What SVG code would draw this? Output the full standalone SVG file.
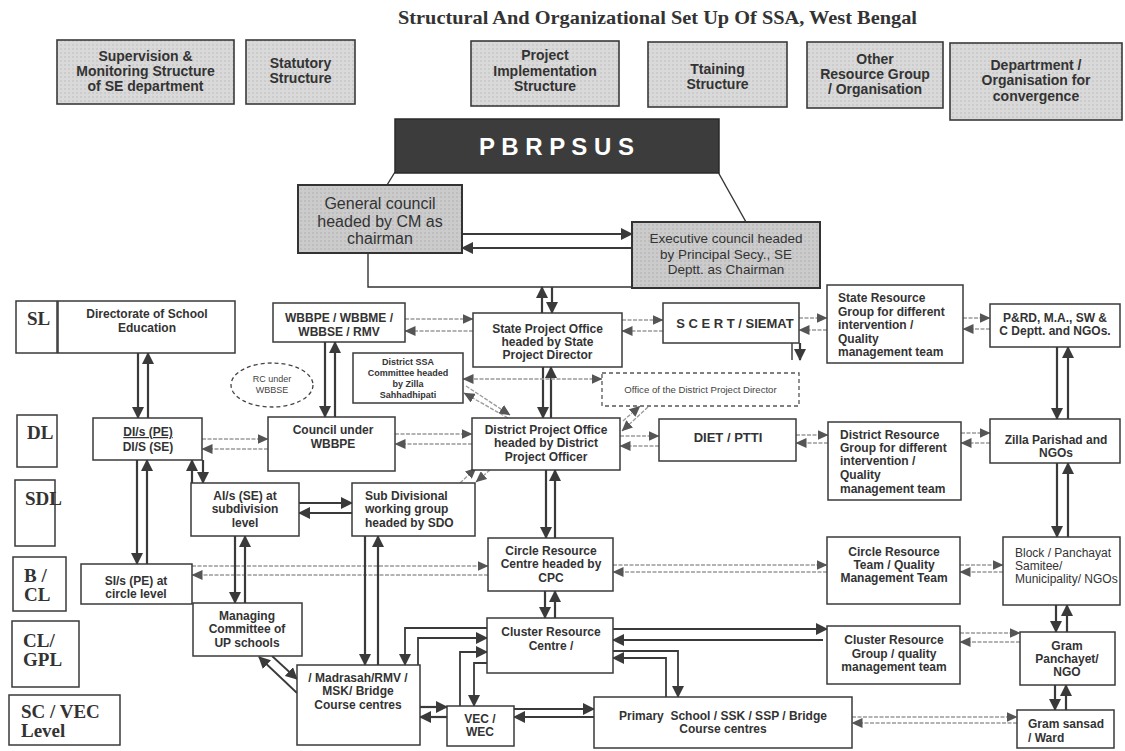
<svg xmlns="http://www.w3.org/2000/svg" width="1125" height="751" viewBox="0 0 1125 751">
<defs>
<pattern id="dots" width="4" height="4" patternUnits="userSpaceOnUse"><rect width="4" height="4" fill="#d9d9d9"/><circle cx="1" cy="1" r="0.7" fill="#b5b5b5"/></pattern>
<pattern id="dots2" width="4" height="4" patternUnits="userSpaceOnUse"><rect width="4" height="4" fill="#cbcbcb"/><circle cx="1" cy="1" r="0.7" fill="#a8a8a8"/></pattern>
<marker id="ah" viewBox="0 0 12 12" refX="11" refY="6" markerWidth="12" markerHeight="12" markerUnits="userSpaceOnUse" orient="auto-start-reverse"><path d="M0,0 L12,6 L0,12 z" fill="#3a3a3a"/></marker>
<marker id="at" viewBox="0 0 11 10" refX="10.5" refY="5" markerWidth="11" markerHeight="10" markerUnits="userSpaceOnUse" orient="auto-start-reverse"><path d="M0,0 L11,5 L0,10 z" fill="#555"/></marker>
</defs>
<style>
.box{fill:#fff;stroke:#3a3a3a;stroke-width:1.5}
.hdr{fill:url(#dots);stroke:#3a3a3a;stroke-width:1.6}
.gc{fill:url(#dots2);stroke:#333;stroke-width:2}
.dash{fill:#fff;stroke:#555;stroke-width:1.3;stroke-dasharray:4 3}
.t{font-family:"Liberation Sans",Arial,sans-serif;font-weight:bold;font-size:12px;fill:#333;text-anchor:middle}
.tl{font-family:"Liberation Sans",Arial,sans-serif;font-weight:bold;font-size:12px;fill:#333}
.h{font-family:"Liberation Sans",Arial,sans-serif;font-weight:bold;font-size:14px;fill:#333;text-anchor:middle}
.r{font-family:"Liberation Sans",Arial,sans-serif;font-size:16px;fill:#333;text-anchor:middle}
.re{font-family:"Liberation Sans",Arial,sans-serif;font-size:13.5px;fill:#333;text-anchor:middle}
.ts{font-family:"Liberation Sans",Arial,sans-serif;font-weight:bold;font-size:9px;fill:#333;text-anchor:middle}
.sm{font-family:"Liberation Sans",Arial,sans-serif;font-size:9px;fill:#444;text-anchor:middle}
.tb{font-family:"Liberation Sans",Arial,sans-serif;font-weight:bold;font-size:13px;fill:#333;text-anchor:middle}
.rg{font-family:"Liberation Sans",Arial,sans-serif;font-size:12px;fill:#333}
.lbl{font-family:"Liberation Serif","Times New Roman",serif;font-weight:bold;font-size:19px;fill:#333}
.thick{fill:none;stroke:#3a3a3a;stroke-width:2.2;marker-end:url(#ah)}
.med{fill:none;stroke:#3a3a3a;stroke-width:1.8;marker-end:url(#ah)}
.thin{fill:none;stroke:#9a9a9a;stroke-width:1.3;stroke-dasharray:4 1.5;marker-end:url(#at)}
.plain{fill:none;stroke:#333;stroke-width:1.4}
</style>
<rect width="1125" height="751" fill="#fff"/>
<text x="657.5" y="24" font-family="'Liberation Serif','Times New Roman',serif" font-weight="bold" font-size="19" fill="#333" text-anchor="middle" textLength="519" lengthAdjust="spacingAndGlyphs">Structural And Organizational Set Up Of SSA, West Bengal</text>

<g id="connectors">
<line class="plain" x1="395" y1="172" x2="387" y2="185"/>
<line class="plain" x1="718" y1="172" x2="746" y2="222"/>
<line class="med" x1="462" y1="234" x2="632" y2="234"/>
<line class="med" x1="632" y1="248" x2="462" y2="248"/>
<polyline class="plain" points="368,253 368,287 632,287"/>
<line class="thick" x1="542" y1="313" x2="542" y2="287"/>
<line class="thick" x1="552" y1="287" x2="552" y2="313"/>

<line class="thin" x1="405" y1="319" x2="473" y2="319"/>
<line class="thin" x1="473" y1="331" x2="405" y2="331"/>
<line class="thin" x1="622" y1="320" x2="663" y2="320"/>
<line class="thin" x1="663" y1="331" x2="622" y2="331"/>
<line class="thin" x1="799" y1="318" x2="827" y2="318"/>
<line class="thin" x1="827" y1="330" x2="799" y2="330"/>
<line class="thin" x1="963" y1="318" x2="990" y2="318"/>
<line class="thin" x1="990" y1="329" x2="963" y2="329"/>
<line class="plain" x1="792" y1="343" x2="792" y2="360"/>
<line class="thick" x1="800" y1="343" x2="800" y2="360"/>

<line class="thick" x1="138" y1="353" x2="138" y2="418"/>
<line class="thick" x1="148" y1="418" x2="148" y2="353"/>
<line class="thick" x1="325" y1="342" x2="325" y2="417"/>
<line class="thick" x1="335" y1="417" x2="335" y2="342"/>
<line class="thick" x1="1057" y1="347" x2="1057" y2="419"/>
<line class="thick" x1="1068" y1="419" x2="1068" y2="347"/>
<line class="thick" x1="543" y1="367" x2="543" y2="418"/>
<line class="thick" x1="551" y1="418" x2="551" y2="367"/>

<line class="thin" x1="463" y1="379" x2="602" y2="379" marker-start="url(#at)"/>
<line class="thin" x1="508" y1="418" x2="464" y2="393"/>
<line class="thin" x1="466" y1="386" x2="510" y2="415"/>
<line class="thin" x1="623" y1="421" x2="640" y2="406"/>
<line class="thin" x1="648" y1="407" x2="622" y2="431"/>

<line class="thin" x1="202" y1="439" x2="268" y2="439"/>
<line class="thin" x1="268" y1="449" x2="202" y2="449"/>
<line class="thin" x1="395" y1="434" x2="472" y2="434"/>
<line class="thin" x1="472" y1="444" x2="395" y2="444"/>
<line class="thin" x1="620" y1="436" x2="659" y2="436"/>
<line class="thin" x1="659" y1="446" x2="620" y2="446"/>
<line class="thin" x1="796" y1="435" x2="828" y2="435"/>
<line class="thin" x1="828" y1="443" x2="796" y2="443"/>
<line class="thin" x1="961" y1="433" x2="990" y2="433"/>
<line class="thin" x1="990" y1="443" x2="961" y2="443"/>

<line class="thick" x1="137" y1="460" x2="137" y2="564"/>
<line class="thick" x1="147" y1="564" x2="147" y2="460"/>
<line class="thick" x1="192" y1="483" x2="192" y2="460"/>
<line class="thick" x1="203" y1="460" x2="203" y2="483"/>
<line class="med" x1="299" y1="503" x2="352" y2="503"/>
<line class="med" x1="352" y1="513" x2="299" y2="513"/>
<line class="thin" x1="460" y1="483" x2="476" y2="468"/>
<line class="thin" x1="490" y1="470" x2="476" y2="482"/>

<line class="thin" x1="192" y1="566" x2="488" y2="566"/>
<line class="thin" x1="488" y1="575" x2="192" y2="575"/>
<line class="thin" x1="613" y1="565" x2="827" y2="565"/>
<line class="thin" x1="827" y1="572" x2="613" y2="572"/>
<line class="thin" x1="960" y1="565" x2="1003" y2="565"/>
<line class="thin" x1="1003" y1="572" x2="960" y2="572"/>
<line class="thick" x1="546" y1="470" x2="546" y2="538"/>
<line class="thick" x1="555" y1="538" x2="555" y2="470"/>
<line class="thick" x1="235" y1="536" x2="235" y2="603"/>
<line class="thick" x1="245" y1="603" x2="245" y2="536"/>
<line class="thick" x1="365" y1="536" x2="365" y2="665"/>
<line class="thick" x1="378" y1="665" x2="378" y2="536"/>
<line class="thick" x1="1057" y1="463" x2="1057" y2="537"/>
<line class="thick" x1="1068" y1="537" x2="1068" y2="463"/>

<line class="thick" x1="545" y1="591" x2="545" y2="618"/>
<line class="thick" x1="555" y1="618" x2="555" y2="591"/>
<line class="thick" x1="613" y1="629" x2="827" y2="629"/>
<line class="thick" x1="823" y1="640" x2="613" y2="640"/>
<line class="thin" x1="960" y1="633" x2="1020" y2="633"/>
<line class="thin" x1="1020" y1="642" x2="960" y2="642"/>
<line class="thick" x1="1056" y1="605" x2="1056" y2="632"/>
<line class="thick" x1="1067" y1="632" x2="1067" y2="605"/>
<line class="thick" x1="1055" y1="685" x2="1055" y2="710"/>
<line class="thick" x1="1066" y1="710" x2="1066" y2="685"/>
<polyline class="med" points="613,651 678,651 678,697"/>
<polyline class="med" points="666,697 666,658 613,658"/>
<line class="thin" x1="852" y1="717" x2="1017" y2="717"/>
<line class="thin" x1="1017" y1="723" x2="852" y2="723"/>
<line class="thick" x1="514" y1="709" x2="594" y2="709"/>
<line class="thick" x1="594" y1="717" x2="514" y2="717"/>
<line class="thick" x1="420" y1="707" x2="447" y2="707"/>
<line class="thick" x1="447" y1="717" x2="420" y2="717"/>
<line class="med" x1="297" y1="693" x2="259" y2="657"/>
<line class="med" x1="272" y1="656" x2="297" y2="679"/>
<polyline class="med" points="487,628 405,628 405,665"/>
<polyline class="med" points="418,665 418,638 487,638"/>
<polyline class="med" points="460,706 460,652 487,652"/>
<polyline class="med" points="487,663 474,663 474,706"/>
</g>

<g id="nodes">
<g id="hdr-supervision"><rect class="hdr" x="57" y="40" width="177" height="64"/>
<text class="h" x="145.5" y="61">Supervision &amp;</text><text class="h" x="145.5" y="76">Monitoring Structure</text><text class="h" x="145.5" y="91">of SE department</text></g>
<g id="hdr-statutory"><rect class="hdr" x="246" y="40" width="109" height="64"/>
<text class="h" x="300.5" y="68">Statutory</text><text class="h" x="300.5" y="83">Structure</text></g>
<g id="hdr-project"><rect class="hdr" x="471" y="41" width="148" height="65"/>
<text class="h" x="545" y="60">Project</text><text class="h" x="545" y="76">Implementation</text><text class="h" x="545" y="91">Structure</text></g>
<g id="hdr-training"><rect class="hdr" x="648" y="42" width="139" height="65"/>
<text class="h" x="717.5" y="74">Ttaining</text><text class="h" x="717.5" y="89">Structure</text></g>
<g id="hdr-other"><rect class="hdr" x="807" y="42" width="136" height="66"/>
<text class="h" x="875" y="64">Other</text><text class="h" x="875" y="79">Resource Group</text><text class="h" x="875" y="94">/ Organisation</text></g>
<g id="hdr-dept"><rect class="hdr" x="950" y="43" width="172" height="77"/>
<text class="h" x="1036" y="70">Departrment /</text><text class="h" x="1036" y="85">Organisation for</text><text class="h" x="1036" y="101">convergence</text></g>

<g id="pbrpsus"><rect x="395" y="119" width="324" height="54" fill="#3c3c3c" stroke="#2a2a2a" stroke-width="1.5"/>
<text x="556.5" y="155" font-family="'Liberation Sans',Arial,sans-serif" font-weight="bold" font-size="24" fill="#fff" text-anchor="middle" textLength="155" lengthAdjust="spacing">P B R P S U S</text></g>

<g id="general-council"><rect class="gc" x="298" y="185" width="164" height="68"/>
<text class="r" x="380" y="209">General council</text><text class="r" x="380" y="227">headed by CM as</text><text class="r" x="380" y="244">chairman</text></g>
<g id="executive-council"><rect class="gc" x="632" y="222" width="188" height="66"/>
<text class="re" x="726" y="243">Executive council headed</text><text class="re" x="726" y="259">by Principal Secy., SE</text><text class="re" x="726" y="274">Deptt. as Chairman</text></g>

<g id="lvl-sl"><rect class="box" x="16" y="301" width="41" height="52"/><text class="lbl" x="27" y="325">SL</text></g>
<g id="lvl-dl"><rect class="box" x="17" y="415" width="40" height="52"/><text class="lbl" x="27" y="439">DL</text></g>
<g id="lvl-sdl"><rect class="box" x="15" y="480" width="40" height="66"/><text class="lbl" x="25" y="505">SDL</text></g>
<g id="lvl-bcl"><rect class="box" x="13" y="557" width="53" height="54"/><text class="lbl" x="24" y="582">B /</text><text class="lbl" x="24" y="601">CL</text></g>
<g id="lvl-clgpl"><rect class="box" x="12" y="621" width="67" height="66"/><text class="lbl" x="23" y="647">CL/</text><text class="lbl" x="23" y="666">GPL</text></g>
<g id="lvl-sc"><rect class="box" x="9" y="695" width="111" height="50"/><text class="lbl" x="21" y="718">SC / VEC</text><text class="lbl" x="21" y="737">Level</text></g>

<g id="directorate"><rect class="box" x="58" y="301" width="177" height="52"/>
<text class="t" x="147" y="318">Directorate of School</text><text class="t" x="147" y="332">Education</text></g>
<g id="wbbpe"><rect class="box" x="273" y="303" width="132" height="39"/>
<text class="t" x="339" y="322">WBBPE / WBBME /</text><text class="t" x="339" y="336">WBBSE / RMV</text></g>
<g id="spo"><rect class="box" x="473" y="313" width="149" height="54"/>
<text class="t" x="547.5" y="333">State Project Office</text><text class="t" x="547.5" y="346">headed by State</text><text class="t" x="547.5" y="359">Project Director</text></g>
<g id="scert"><rect class="box" x="663" y="303" width="136" height="40"/>
<text class="tb" x="735" y="328">S C E R T / SIEMAT</text></g>
<g id="srg"><rect class="box" x="827" y="285" width="136" height="78"/>
<text class="tl" x="838" y="302">State Resource</text><text class="tl" x="838" y="316">Group for different</text><text class="tl" x="838" y="329">intervention /</text><text class="tl" x="838" y="343">Quality</text><text class="tl" x="838" y="356">management team</text></g>
<g id="prd"><rect class="box" x="990" y="304" width="130" height="43"/>
<text class="t" x="1055" y="322">P&amp;RD, M.A., SW &amp;</text><text class="t" x="1055" y="335">C Deptt. and NGOs.</text></g>

<g id="district-ssa"><rect class="box" x="353" y="353" width="110" height="50"/>
<text class="ts" x="408" y="365">District SSA</text><text class="ts" x="408" y="376">Committee headed</text><text class="ts" x="408" y="387">by Zilla</text><text class="ts" x="408" y="398">Sahhadhipati</text></g>
<g id="rc-wbbse"><ellipse cx="272" cy="385" rx="41" ry="22" fill="#fff" stroke="#444" stroke-width="1.3" stroke-dasharray="4 3"/>
<text class="sm" x="272" y="382">RC under</text><text class="sm" x="272" y="393">WBBSE</text></g>
<g id="office-dpd"><rect class="dash" x="602" y="373" width="197" height="33"/>
<text class="sm" x="700.5" y="393" style="font-size:9.6px">Office of the District Project Director</text></g>

<g id="dis"><rect class="box" x="93" y="418" width="109" height="42"/>
<text class="t" x="148" y="436" text-decoration="underline">DI/s (PE)</text><text class="t" x="148" y="451">DI/S (SE)</text></g>
<g id="council"><rect class="box" x="268" y="417" width="127" height="54"/>
<text class="t" x="333" y="434">Council under</text><text class="t" x="333" y="448">WBBPE</text></g>
<g id="dpo"><rect class="box" x="472" y="418" width="148" height="52"/>
<text class="t" x="546" y="434">District Project Office</text><text class="t" x="546" y="447">headed by District</text><text class="t" x="546" y="461">Project Officer</text></g>
<g id="diet"><rect class="box" x="659" y="419" width="137" height="42"/>
<text class="tb" x="728" y="442">DIET / PTTI</text></g>
<g id="drg"><rect class="box" x="828" y="422" width="133" height="78"/>
<text class="tl" x="840" y="439">District Resource</text><text class="tl" x="840" y="452">Group for different</text><text class="tl" x="840" y="465">intervention /</text><text class="tl" x="840" y="479">Quality</text><text class="tl" x="840" y="493">management team</text></g>
<g id="zilla"><rect class="box" x="990" y="419" width="130" height="44"/>
<text class="t" x="1056" y="444">Zilla Parishad and</text><text class="t" x="1056" y="457">NGOs</text></g>

<g id="ais"><rect class="box" x="191" y="483" width="108" height="53"/>
<text class="t" x="245" y="500">AI/s (SE) at</text><text class="t" x="245" y="513">subdivision</text><text class="t" x="245" y="527">level</text></g>
<g id="subdiv"><rect class="box" x="352" y="483" width="123" height="53"/>
<text class="tl" x="365" y="500">Sub Divisional</text><text class="tl" x="365" y="513">working group</text><text class="tl" x="365" y="527">headed by SDO</text></g>

<g id="sis"><rect class="box" x="81" y="564" width="111" height="40"/>
<text class="t" x="136" y="585">SI/s (PE) at</text><text class="t" x="136" y="598">circle level</text></g>
<g id="circle-rc"><rect class="box" x="488" y="538" width="125" height="53"/>
<text class="t" x="551" y="555">Circle Resource</text><text class="t" x="551" y="568">Centre headed by</text><text class="t" x="551" y="582">CPC</text></g>
<g id="crt"><rect class="box" x="827" y="537" width="133" height="67"/>
<text class="t" x="894" y="556">Circle Resource</text><text class="t" x="894" y="569">Team / Quality</text><text class="t" x="894" y="582">Management Team</text></g>
<g id="block"><rect class="box" x="1003" y="537" width="117" height="68"/>
<text class="rg" x="1015" y="557">Block / Panchayat</text><text class="rg" x="1015" y="570">Samitee/</text><text class="rg" x="1015" y="583">Municipality/ NGOs</text></g>

<g id="managing"><rect class="box" x="193" y="603" width="109" height="53"/>
<text class="t" x="247" y="620">Managing</text><text class="t" x="247" y="633">Committee of</text><text class="t" x="247" y="647">UP schools</text></g>
<g id="cluster-rc"><rect class="box" x="487" y="618" width="126" height="55"/>
<text class="t" x="551" y="636">Cluster Resource</text><text class="t" x="551" y="650">Centre /</text></g>
<g id="crg"><rect class="box" x="827" y="626" width="133" height="58"/>
<text class="t" x="894" y="644">Cluster Resource</text><text class="t" x="894" y="658">Group / quality</text><text class="t" x="894" y="671">management team</text></g>
<g id="gp"><rect class="box" x="1020" y="632" width="95" height="53"/>
<text class="t" x="1067" y="650">Gram</text><text class="t" x="1067" y="663">Panchayet/</text><text class="t" x="1067" y="676">NGO</text></g>
<g id="madrasah"><rect class="box" x="297" y="665" width="123" height="80"/>
<text class="t" x="358" y="682">/ Madrasah/RMV /</text><text class="t" x="358" y="695">MSK/ Bridge</text><text class="t" x="358" y="709">Course centres</text></g>
<g id="vec"><rect class="box" x="447" y="706" width="67" height="40"/>
<text class="t" x="480" y="723">VEC /</text><text class="t" x="480" y="736">WEC</text></g>
<g id="primary"><rect class="box" x="594" y="697" width="258" height="51"/>
<text class="t" x="723" y="720" xml:space="preserve">Primary  School / SSK / SSP / Bridge</text><text class="t" x="723" y="733">Course centres</text></g>
<g id="gram-sansad"><rect class="box" x="1017" y="710" width="97" height="38"/>
<text class="tl" x="1028" y="728">Gram sansad</text><text class="tl" x="1028" y="742">/ Ward</text></g>
</g>
</svg>
